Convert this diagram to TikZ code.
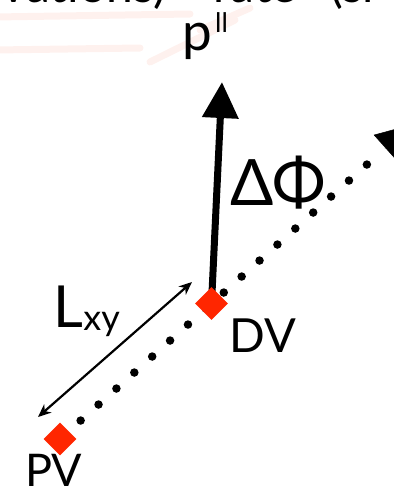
\documentclass[tikz,border=0pt]{standalone}
\usepackage{fontspec}
\setmainfont{Lato}
\usetikzlibrary{arrows.meta,shapes.geometric,calc}
\pgfdeclarelayer{background}
\pgfsetlayers{background,main}
\definecolor{vtxred}{RGB}{255,38,0}
\definecolor{streak}{RGB}{254,241,238}
\tikzset{
  vertex/.style={diamond,fill=vtxred,draw=none,inner sep=0pt,minimum width=33pt,minimum height=33pt,aspect=1},
  lbl/.style={inner sep=0pt,text=black},
  momentum/.style={line width=7pt,-{Triangle[length=36pt,width=35pt]}},
  flight/.style={line width=8.5pt,line cap=round,dash pattern=on 0pt off 24pt,dash phase=20.3pt},
  fliphead/.style={line width=0.5pt,-{Triangle[length=35pt,width=35pt]}},
  dist/.style={line width=2.2pt,{Stealth[length=13pt,width=11pt,inset=4pt]}-{Stealth[length=13pt,width=11pt,inset=4pt]}},
  faint/.style={draw=streak,line width=7pt,line cap=round}
}
\begin{document}
\begin{tikzpicture}[x=1pt,y=-1pt]
\useasboundingbox (0,0) rectangle (394,488);
\clip (0,0) rectangle (394,488);
% faint background streaks
\draw[faint] (-5,17) -- (190,14);
\draw[faint] (-5,50) -- (140,48);
\draw[faint] (150,62) -- (235,20);
\draw[faint] (200,30) -- (250,8);
% cut-off title text
\node[lbl,anchor=base east,font=\fontsize{48}{56}\selectfont] (t1) at (166,2) {motivations)};
\node[lbl,anchor=base,font=\fontsize{48}{56}\selectfont] (t2) at (255,2) {rate};
\node[lbl,anchor=base west,font=\fontsize{48}{56}\selectfont] (t3) at (330,2) {(sl};
% vertices
\node[vertex] (DV) at (211.5,303.5) {};
\node[vertex] (PV) at (60,439) {};
\coordinate (ptip) at (222,82);
\coordinate (Lb) at (38,417);
\coordinate (Lt) at (192,282);
\begin{pgfonlayer}{background}
\draw[flight] (PV.center) -- ($(PV.center)!2.14!(DV.center)$);
\draw[fliphead] ($(PV.center)!2.145!(DV.center)$) -- ($(PV.center)!2.32!(DV.center)$);
\draw[momentum] (DV.center) -- (ptip);
\end{pgfonlayer}
\draw[dist] (Lb) -- (Lt);
% labels
\node[lbl,anchor=base west,font=\fontsize{53}{60}\selectfont] (p) at (182,50) {p};
\node[lbl,anchor=base west,font=\fontsize{27}{32}\selectfont] (pll) at (215,32) {ll};
\node[lbl,anchor=base west,font=\fontsize{64}{72}\selectfont] (dphi) at (230,205) {ΔΦ};
\node[lbl,anchor=base west,font=\fontsize{58}{66}\selectfont] (L) at (53,327) {L};
\node[lbl,anchor=base west,font=\fontsize{36}{42}\selectfont] (xy) at (L.base east) {\raisebox{-3pt}{xy}};
\node[lbl,anchor=base west,font=\fontsize{47}{54}\selectfont] (dvl) at (229,352) {DV};
\node[lbl,anchor=base west,font=\fontsize{45}{52}\selectfont] (pvl) at (25,486) {PV};
\end{tikzpicture}
\end{document}
